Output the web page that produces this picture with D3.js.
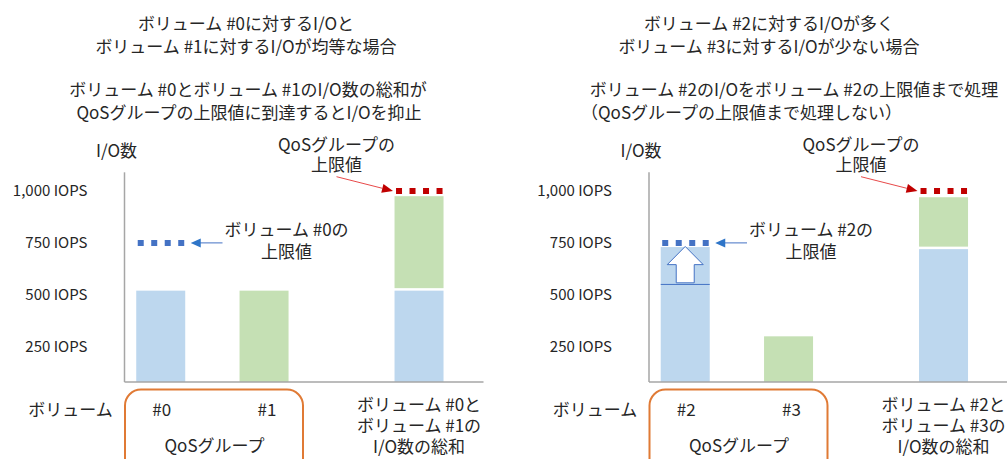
<!DOCTYPE html>
<html><head><meta charset="utf-8">
<script src="https://cdn.jsdelivr.net/npm/d3@7"></script>
<style>
html,body{margin:0;padding:0;background:#fff;}
svg{display:block;font-family:"Noto Sans CJK JP","Noto Sans",sans-serif;}
text{fill:#262626;}
</style></head>
<body><svg id="c" width="1007" height="459"></svg>
<script>
// ---- data ----
const tickValues = [250, 500, 750, 1000];
const tickLabels = ["250 IOPS", "500 IOPS", "750 IOPS", "1,000 IOPS"];
const groupLimit = 1000;       // QoS group upper limit
const volumeLimit = 750;       // per-volume upper limit

const leftTitles = ["ボリューム #0に対するI/Oと", "ボリューム #1に対するI/Oが均等な場合"];
const leftNotes = ["ボリューム #0とボリューム #1のI/O数の総和が", "QoSグループの上限値に到達するとI/Oを抑止"];
const leftVolumes = ["#0", "#1"];
const leftValues = [520, 520];
const leftStack = [520, 455];
const leftLimitLabel = ["ボリューム #0の", "上限値"];
const leftSumLabel = ["ボリューム #0と", "ボリューム #1の", "I/O数の総和"];

const rightTitles = ["ボリューム #2に対するI/Oが多く", "ボリューム #3に対するI/Oが少ない場合"];
const rightNotes = ["ボリューム #2のI/Oをボリューム #2の上限値まで処理", "（QoSグループの上限値まで処理しない）"];
const rightVolumes = ["#2", "#3"];
const rightValues = [730, 300];
const rightBefore = 550;       // level of volume #2 before it grows to its limit
const rightStack = [720, 250];
const rightLimitLabel = ["ボリューム #2の", "上限値"];
const rightSumLabel = ["ボリューム #2と", "ボリューム #3の", "I/O数の総和"];

const groupLimitLabel = ["QoSグループの", "上限値"];
const yAxisTitle = "I/O数";
const xRowLabel = "ボリューム";
const groupLabel = "QoSグループ";
const slots = ["a", "s1", "b", "s2", "s3", "sum"];

// ---- styles ----
const C = {blue:"#bdd7ee", green:"#c5e0b4", dot:"#4472c4", red:"#c00000", orange:"#e07a35", axis:"#a6a6a6"};
const FS = 17;
const svg = d3.select("#c");

const y = d3.scaleLinear().domain([80, 1000]).range([382, 191]);
const yTop = 1090;

function panel(axisX, o) {
  const g = svg.append("g");
  const step = 51.66;
  const x = d3.scaleBand().domain(slots)
    .range([axisX + 10.4, axisX + 10.4 + step * slots.length])
    .paddingInner(1 - 49 / step).paddingOuter((1 - 49 / step) / 2);
  const bw = x.bandwidth();
  const base = y.range()[0];

  // y tick labels
  const ax = d3.axisLeft(y).tickValues(tickValues).tickSize(0).tickPadding(37)
    .tickFormat((d, i) => tickLabels[i]);
  const ag = g.append("g").attr("transform", `translate(${axisX},0)`).call(ax);
  ag.select(".domain").remove();
  ag.selectAll("text").attr("font-size", 15).attr("fill", "#262626")
    .attr("font-family", '"Noto Sans CJK JP","Noto Sans",sans-serif');

  // bars
  const singles = [{k:"a", v:o.values[0], c:C.blue}, {k:"b", v:o.values[1], c:C.green}];
  g.selectAll(".bar").data(singles).join("rect")
    .attr("x", d => x(d.k)).attr("width", bw)
    .attr("y", d => y(d.v)).attr("height", d => base - y(d.v)).attr("fill", d => d.c);
  // stacked sum bar
  const s0 = o.stack[0], s1 = o.stack[0] + o.stack[1];
  g.append("rect").attr("x", x("sum")).attr("width", bw)
    .attr("y", y(s0)).attr("height", base - y(s0)).attr("fill", C.blue);
  g.append("rect").attr("x", x("sum")).attr("width", bw)
    .attr("y", y(s1)).attr("height", y(s0) - y(s1) - 2.5).attr("fill", C.green);

  // before-line and hollow arrow inside bar a
  if (o.before != null) {
    const yb = y(o.before), yt = y(o.values[0]);
    g.append("line").attr("x1", x("a")).attr("x2", x("a") + bw)
      .attr("y1", yb).attr("y2", yb).attr("stroke", C.dot).attr("stroke-width", 1);
    const cx = x("a") + bw / 2, sh = 9, hh = 18;
    const yBot = yb - 1.6, yTip = yt - 0.6, yHead = yTip + (yBot - yTip) * 0.5;
    const pts = [[cx - sh, yBot], [cx - sh, yHead], [cx - hh, yHead], [cx, yTip],
                 [cx + hh, yHead], [cx + sh, yHead], [cx + sh, yBot]];
    g.append("path").attr("d", d3.line()(pts) + "Z")
      .attr("fill", "#fff").attr("stroke", C.dot).attr("stroke-width", 1);
  }

  // axis lines
  g.append("line").attr("x1", axisX).attr("x2", axisX).attr("y1", y(yTop)).attr("y2", base)
    .attr("stroke", C.axis).attr("stroke-width", 1.5);
  g.append("line").attr("x1", axisX).attr("x2", axisX + 359).attr("y1", base).attr("y2", base)
    .attr("stroke", C.axis).attr("stroke-width", 1.5);

  // dotted limits
  const dash = "6,7.5";
  g.append("line").attr("x1", x("a") + 1.5).attr("x2", x("a") + bw - 1)
    .attr("y1", y(volumeLimit)).attr("y2", y(volumeLimit))
    .attr("stroke", C.dot).attr("stroke-width", 6).attr("stroke-dasharray", dash);
  g.append("line").attr("x1", x("sum") + 1.5).attr("x2", x("sum") + bw - 1)
    .attr("y1", y(groupLimit)).attr("y2", y(groupLimit))
    .attr("stroke", C.red).attr("stroke-width", 6).attr("stroke-dasharray", dash);

  // blue annotation arrow
  const yl = y(volumeLimit);
  const tipX = x("a") + bw + 5.5;
  g.append("line").attr("x1", tipX + 8).attr("x2", axisX + 98).attr("y1", yl).attr("y2", yl)
    .attr("stroke", C.dot).attr("stroke-width", 1);
  g.append("path").attr("d", d3.line()([[tipX, yl], [tipX + 10, yl - 4.5], [tipX + 10, yl + 4.5]]) + "Z")
    .attr("fill", "#2e75c8");
  const lt = g.append("text").attr("text-anchor", "middle").attr("font-size", FS);
  lt.selectAll("tspan").data(o.limitLabel).join("tspan")
    .attr("x", axisX + 162).attr("y", (d, i) => 236 + i * 22).text(d => d);

  // red annotation arrow
  const rtx = x("sum") - 1.5, rty = y(groupLimit);
  const sx = axisX + 212, sy = 176.7;
  const ang = Math.atan2(rty - sy, rtx - sx);
  const L = 11, W = 4.5;
  const bx = rtx - L * Math.cos(ang), by = rty - L * Math.sin(ang);
  g.append("line").attr("x1", sx).attr("y1", sy).attr("x2", bx).attr("y2", by)
    .attr("stroke", "#e84a4a").attr("stroke-width", 1);
  g.append("path").attr("d", d3.line()([[rtx, rty],
      [bx - W * Math.sin(ang), by + W * Math.cos(ang)],
      [bx + W * Math.sin(ang), by - W * Math.cos(ang)]]) + "Z").attr("fill", C.red);
  const gt = g.append("text").attr("text-anchor", "middle").attr("font-size", FS);
  gt.selectAll("tspan").data(groupLimitLabel).join("tspan")
    .attr("x", axisX + 212).attr("y", (d, i) => 151 + i * 20).text(d => d);

  // y axis title
  g.append("text").attr("x", axisX - 8).attr("y", 157).attr("text-anchor", "middle")
    .attr("font-size", FS).text(yAxisTitle);

  // bottom labels
  g.append("text").attr("x", axisX - 54).attr("y", 416).attr("text-anchor", "middle")
    .attr("font-size", FS).text(xRowLabel);
  g.append("rect").attr("x", axisX + 0.5).attr("y", 389.5).attr("width", 178).attr("height", 100)
    .attr("rx", 16).attr("fill", "none").attr("stroke", C.orange).attr("stroke-width", 2);
  g.selectAll(".vl").data(["a", "b"]).join("text")
    .attr("x", (d, i) => x(d) + bw / 2 + (i ? 3 : 1)).attr("y", 416).attr("text-anchor", "middle")
    .attr("font-size", FS).text((d, i) => o.volumes[i]);
  g.append("text").attr("x", axisX + 90).attr("y", 452).attr("text-anchor", "middle")
    .attr("font-size", FS).text(groupLabel);
  const st = g.append("text").attr("text-anchor", "middle").attr("font-size", FS);
  st.selectAll("tspan").data(o.sumLabel).join("tspan")
    .attr("x", x("sum") + bw / 2).attr("y", (d, i) => 411 + i * 21).text(d => d);

  // titles
  const t = g.append("text").attr("font-size", FS);
  t.selectAll("tspan").data(o.titles).join("tspan")
    .attr("x", o.tx).attr("text-anchor", "middle").attr("y", (d, i) => 30 + i * 23).text(d => d);
  const n = g.append("text").attr("font-size", FS);
  n.selectAll("tspan").data(o.notes).join("tspan")
    .attr("x", (d, i) => o.nx[i]).attr("text-anchor", (d, i) => o.na[i])
    .attr("y", (d, i) => 96 + i * 23).text(d => d);
}

panel(124.5, {values:leftValues, stack:leftStack, volumes:leftVolumes, limitLabel:leftLimitLabel,
  sumLabel:leftSumLabel, titles:leftTitles, notes:leftNotes, tx:246, nx:[248, 249], na:["middle","middle"]});
panel(649, {values:rightValues, stack:rightStack, before:rightBefore, volumes:rightVolumes,
  limitLabel:rightLimitLabel, sumLabel:rightSumLabel, titles:rightTitles, notes:rightNotes,
  tx:769, nx:[794, 581], na:["middle","start"]});
</script></body></html>
